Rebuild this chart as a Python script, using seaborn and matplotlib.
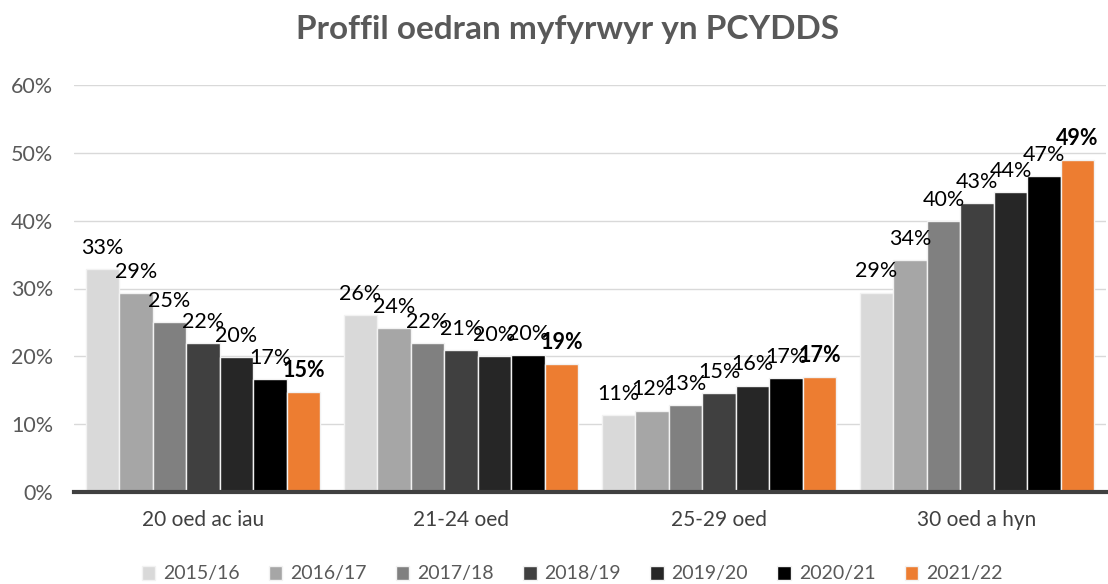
import matplotlib
matplotlib.use("Agg")
import matplotlib.pyplot as plt
import seaborn as sns
import pandas as pd

# Age groups and academic years
groups = ["20 oed ac iau", "21-24 oed", "25-29 oed", "30 oed a hyn"]
years = ["2015/16", "2016/17", "2017/18", "2018/19", "2019/20", "2020/21", "2021/22"]

# Share of students (%) in each age group, per academic year
y2015_16 = [32.9, 26.1, 11.3, 29.4]
y2016_17 = [29.3, 24.2, 12.0, 34.2]
y2017_18 = [25.1, 21.9, 12.8, 39.9]
y2018_19 = [21.9, 20.9, 14.6, 42.6]
y2019_20 = [19.9, 20.0, 15.7, 44.2]
y2020_21 = [16.6, 20.2, 16.8, 46.6]
y2021_22 = [14.7, 18.9, 17.0, 49.0]

series = [y2015_16, y2016_17, y2017_18, y2018_19, y2019_20, y2020_21, y2021_22]
colors = ["#D9D9D9", "#A6A6A6", "#808080", "#404040", "#262626", "#000000", "#ED7D31"]

df = pd.DataFrame(
    [(g, yr, v) for yr, vals in zip(years, series) for g, v in zip(groups, vals)],
    columns=["group", "year", "value"],
)

sns.set_theme(style="white")
plt.rcParams["font.family"] = ["Lato", "DejaVu Sans"]

fig = plt.figure(figsize=(11.08, 5.84), dpi=100)
ax = fig.add_axes([74 / 1108, 1 - 492 / 584, 1032 / 1108, 407 / 584])

sns.barplot(
    data=df, x="group", y="value", hue="year", order=groups, hue_order=years,
    palette=colors, saturation=1, width=0.91, edgecolor="#F2F2F2", linewidth=1,
    ax=ax, legend=True,
)

ax.set_ylim(0, 60)
ax.set_xlim(-0.5, 3.5)
ax.set_yticks(range(0, 61, 10))
ax.set_yticklabels([f"{t}%" for t in range(0, 61, 10)], color="#595959", fontsize=15.5)
ax.tick_params(axis="y", length=0, pad=15)
ax.tick_params(axis="x", length=0, pad=13, labelsize=15, labelcolor="#404040")
ax.set_xlabel("")
ax.set_ylabel("")
ax.yaxis.grid(True, color="#D9D9D9", linewidth=1)
ax.set_axisbelow(True)
for side in ["left", "right", "top"]:
    ax.spines[side].set_visible(False)
ax.spines["bottom"].set_color("#404040")
ax.spines["bottom"].set_linewidth(3)

# Value labels above each bar; latest year in bold
for i, cont in enumerate(ax.containers):
    labels = [f"{v:.0f}%" for v in series[i]]
    ax.bar_label(
        cont, labels=labels, padding=8, fontsize=15.5, color="black",
        fontweight="bold" if i == len(years) - 1 else "normal",
    )

handles, labs = ax.get_legend_handles_labels()
ax.legend(
    handles, labs, loc="center", bbox_to_anchor=(572 / 1108, 1 - 574 / 584),
    bbox_transform=fig.transFigure, ncol=7, frameon=False, fontsize=14,
    handlelength=0.7, handleheight=0.7, handletextpad=0.4, columnspacing=1.5,
    labelcolor="#595959",
)

fig.text(568 / 1108, 1 - 30 / 584, "Proffil oedran myfyrwyr yn PCYDDS",
         ha="center", va="center", fontsize=24, fontweight="bold", color="#595959")

fig.savefig("out.png", dpi=100)
